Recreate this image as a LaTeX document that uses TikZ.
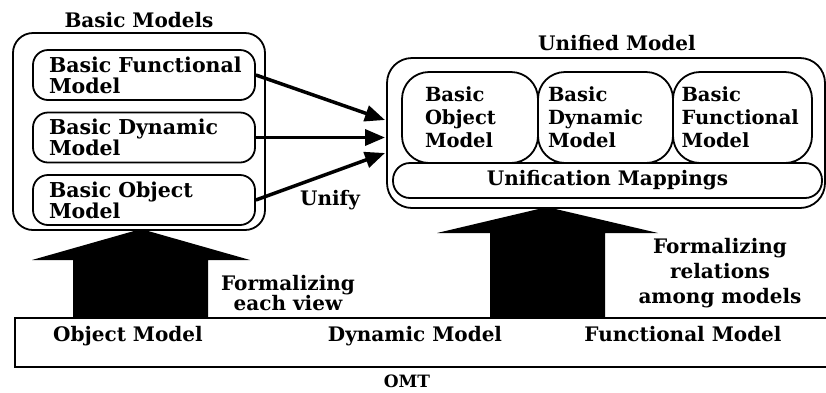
\documentclass[tikz,border=0pt]{standalone}
\usepackage{fontspec}
\setmainfont{DejaVu Serif}
\usetikzlibrary{arrows.meta}
\begin{document}
\begin{tikzpicture}[x=1pt,y=-1pt,
  every node/.style={inner sep=0pt},
  lbl/.style={font=\bfseries\fontsize{20}{21}\selectfont},
  bordered/.style={draw, line width=1.8pt},
  lbox/.style={bordered, rounded corners=15pt, minimum width=222, minimum height=50,
    text width=190, align=left, font=\bfseries\fontsize{20.5}{21}\selectfont},
  ubox/.style={bordered, rounded corners=27pt, minimum height=91, align=left,
    font=\bfseries\fontsize{19.5}{23}\selectfont},
  unifyarrow/.style={line width=3.5pt, -{Triangle[length=20pt,width=16pt]}},
  bigarrow/.style={fill=black, draw=none}
]
\useasboundingbox (0,0) rectangle (826,392);

% Basic models group
\node[bordered, rounded corners=20pt, minimum width=252, minimum height=197] (basic) at (139,131.5) {};
\node[lbl, anchor=base] (bmt) at (139,27) {Basic Models};
\node[lbox] (bf) at (144,75) {\mbox{Basic Functional}\\Model};
\node[lbox] (bd) at (144,137.5) {\mbox{Basic Dynamic}\\Model};
\node[lbox] (bo) at (144,200) {\mbox{Basic Object}\\Model};

% Unified model group
\node[bordered, rounded corners=25pt, minimum width=438, minimum height=150] (uni) at (606,133) {};
\node[lbl, anchor=base] (umt) at (617,50) {Unified Model};
\node[ubox, minimum width=136, text width=90] (uo) at (470,117.5) {Basic\\Object\\Model};
\node[ubox, minimum width=135, text width=115] (ud) at (605.5,117.5) {Basic\\Dynamic\\Model};
\node[ubox, minimum width=139, text width=122] (uf) at (742.5,117.5) {Basic\\\mbox{Functional}\\Model};
\node[bordered, rounded corners=17pt, minimum width=429, minimum height=35, lbl] (um) at (607.5,180.5) {Unification Mappings};

% Unify arrows
\coordinate (t1) at (385,120);
\coordinate (t2) at (385,137.5);
\coordinate (t3) at (385,153);
\draw[unifyarrow] (bf.east) -- (t1);
\draw[unifyarrow] (bd.east) -- (t2);
\draw[unifyarrow] (bo.east) -- (t3);
\node[lbl, anchor=base] (unify) at (330,205) {Unify};

% Big formalizing arrows
\path[bigarrow] (73,317) -- (73,260) -- (32,260) -- (141,229) -- (250,260) -- (208,260) -- (208,317) -- cycle;
\path[bigarrow] (490,317) -- (490,233) -- (437,233) -- (547,207) -- (658,233) -- (605,233) -- (605,317) -- cycle;
\node[align=center, font=\bfseries\fontsize{20}{20}\selectfont] (f1) at (288,293) {Formalizing\\each view};
\node[align=center, font=\bfseries\fontsize{20}{25}\selectfont] (f2) at (720,272.7) {Formalizing\\relations\\among models};

% OMT box
\draw[line width=1.8pt] (826,318) -- (15,318) -- (15,367) -- (826,367);
\node[lbl, anchor=base] (om) at (128,341) {Object Model};
\node[lbl, anchor=base] (dm) at (415,341) {Dynamic Model};
\node[lbl, anchor=base] (fm) at (683,341) {Functional Model};
\node[font=\bfseries\fontsize{17}{20}\selectfont, anchor=base] (omt) at (407,387) {OMT};
\end{tikzpicture}
\end{document}
